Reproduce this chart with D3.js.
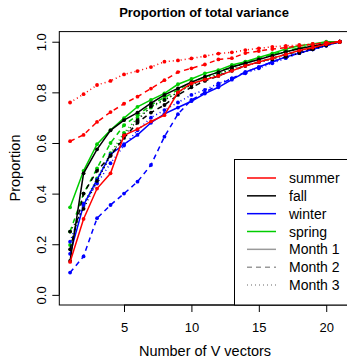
<!DOCTYPE html>
<html>
<head>
<meta charset="utf-8">
<script src="https://cdn.jsdelivr.net/npm/d3@7.9.0/dist/d3.min.js"></script>
<style>
  body { margin: 0; background: #fff; }
  svg { display: block; font-family: "Liberation Sans", Arial, sans-serif; }
</style>
</head>
<body>
<div id="chart"></div>
<script>
// Number of V vectors (x)
const nVectors = d3.range(1, 22);

const seasons = ['summer', 'fall', 'winter', 'spring'];
const seasonColors = ['#FF0000', '#000000', '#0000FF', '#00CD00'];
const months = ['Month 1', 'Month 2', 'Month 3'];
const monthDash = [null, '5,4', '1,3'];

// proportion of total variance, one array per season/month
const summerM1 = [0.13, 0.30, 0.42, 0.48, 0.63, 0.655, 0.685, 0.71, 0.80, 0.835, 0.85, 0.865, 0.885, 0.905, 0.92, 0.935, 0.95, 0.965, 0.977, 0.99, 1.0];
const summerM2 = [0.607, 0.632, 0.683, 0.722, 0.755, 0.783, 0.815, 0.848, 0.88, 0.895, 0.91, 0.93, 0.935, 0.955, 0.963, 0.971, 0.977, 0.984, 0.99, 0.996, 1.0];
const summerM3 = [0.76, 0.793, 0.829, 0.845, 0.871, 0.884, 0.90, 0.921, 0.926, 0.934, 0.943, 0.953, 0.958, 0.967, 0.974, 0.98, 0.984, 0.987, 0.991, 0.996, 1.0];

const fallM1 = [0.134, 0.48, 0.575, 0.65, 0.69, 0.72, 0.757, 0.79, 0.816, 0.84, 0.862, 0.88, 0.90, 0.915, 0.93, 0.945, 0.96, 0.972, 0.983, 0.992, 1.0];
const fallM2 = [0.18, 0.40, 0.49, 0.55, 0.62, 0.68, 0.72, 0.75, 0.79, 0.82, 0.845, 0.865, 0.885, 0.905, 0.92, 0.935, 0.95, 0.962, 0.975, 0.988, 1.0];
const fallM3 = [0.25, 0.34, 0.45, 0.55, 0.63, 0.69, 0.745, 0.77, 0.80, 0.83, 0.85, 0.87, 0.89, 0.905, 0.92, 0.93, 0.94, 0.955, 0.97, 0.985, 1.0];

const winterM1 = [0.162, 0.355, 0.455, 0.555, 0.595, 0.632, 0.68, 0.715, 0.74, 0.765, 0.795, 0.82, 0.85, 0.88, 0.90, 0.92, 0.94, 0.955, 0.97, 0.985, 1.0];
const winterM2 = [0.088, 0.152, 0.303, 0.355, 0.40, 0.447, 0.513, 0.625, 0.714, 0.77, 0.80, 0.83, 0.855, 0.88, 0.90, 0.92, 0.94, 0.955, 0.97, 0.985, 1.0];
const winterM3 = [0.21, 0.36, 0.44, 0.52, 0.59, 0.65, 0.70, 0.73, 0.76, 0.79, 0.81, 0.835, 0.855, 0.875, 0.895, 0.915, 0.935, 0.955, 0.97, 0.985, 1.0];

const springM1 = [0.346, 0.49, 0.595, 0.651, 0.698, 0.743, 0.77, 0.796, 0.832, 0.853, 0.875, 0.888, 0.908, 0.921, 0.938, 0.954, 0.971, 0.984, 0.991, 1.0, 1.0];
const springM2 = [0.25, 0.40, 0.50, 0.60, 0.67, 0.71, 0.75, 0.78, 0.81, 0.84, 0.86, 0.88, 0.90, 0.92, 0.935, 0.95, 0.965, 0.975, 0.985, 0.993, 1.0];
const springM3 = [0.197, 0.36, 0.46, 0.56, 0.64, 0.70, 0.74, 0.77, 0.80, 0.83, 0.855, 0.875, 0.895, 0.915, 0.93, 0.945, 0.96, 0.972, 0.983, 0.992, 1.0];

const seriesValues = {
  summer: [summerM1, summerM2, summerM3],
  fall: [fallM1, fallM2, fallM3],
  winter: [winterM1, winterM2, winterM3],
  spring: [springM1, springM2, springM3],
};

const xTicks = [5, 10, 15, 20];
const yTicks = [0, 0.2, 0.4, 0.6, 0.8, 1.0];

const width = 347, height = 358;
const plot = { left: 59.3, right: 350.5, top: 31.6, bottom: 305 };
const font = '"Liberation Sans", Arial, sans-serif';

const svg = d3.select('#chart').append('svg')
  .attr('width', width).attr('height', height);

const x = d3.scaleLinear().domain([0.2, 21.8]).range([plot.left, plot.right]);
const y = d3.scaleLinear().domain([-0.04, 1.04]).range([plot.bottom, plot.top]);

// series, drawn so that summer ends on top
const drawOrder = ['spring', 'winter', 'fall', 'summer'];
const line = d3.line().x((d, i) => x(nVectors[i])).y(d => y(d));
drawOrder.forEach(season => {
  const color = seasonColors[seasons.indexOf(season)];
  seriesValues[season].forEach((vals, m) => {
    const g = svg.append('g');
    g.append('path')
      .attr('d', line(vals))
      .attr('fill', 'none')
      .attr('stroke', color)
      .attr('stroke-width', 1.5)
      .attr('stroke-dasharray', monthDash[m]);
    g.selectAll('circle')
      .data(vals)
      .join('circle')
      .attr('cx', (d, i) => x(nVectors[i]))
      .attr('cy', d => y(d))
      .attr('r', 1.9)
      .attr('fill', color);
  });
});

// box
svg.append('rect')
  .attr('x', plot.left).attr('y', plot.top)
  .attr('width', plot.right - plot.left).attr('height', plot.bottom - plot.top)
  .attr('fill', 'none').attr('stroke', '#000').attr('stroke-width', 1);

// x axis
const xAxis = svg.append('g').attr('transform', `translate(0,${plot.bottom})`)
  .call(d3.axisBottom(x).tickValues(xTicks).tickSize(7).tickPadding(11).tickFormat(d3.format('d')));
xAxis.select('.domain').attr('d', `M${x(5)},0H${x(20)}`);
xAxis.selectAll('text').attr('font-size', 13).attr('font-family', font).attr('fill', '#000');

// y axis
const yAxis = svg.append('g').attr('transform', `translate(${plot.left},0)`)
  .call(d3.axisLeft(y).tickValues(yTicks).tickSize(7).tickFormat(d3.format('.1f')));
yAxis.select('.domain').attr('d', `M0,${y(0)}V${y(1)}`);
yAxis.selectAll('text')
  .attr('font-size', 13)
  .attr('font-family', font)
  .attr('fill', '#000')
  .attr('text-anchor', 'middle')
  .attr('x', 0).attr('dy', 0)
  .attr('transform', 'translate(-13,0) rotate(-90)');

// titles
svg.append('text')
  .attr('x', 204).attr('y', 17)
  .attr('text-anchor', 'middle')
  .attr('font-weight', 'bold').attr('font-size', 13)
  .text('Proportion of total variance');
svg.append('text')
  .attr('x', 205).attr('y', 356)
  .attr('text-anchor', 'middle').attr('font-size', 14.5)
  .text('Number of V vectors');
svg.append('text')
  .attr('transform', 'translate(20,168) rotate(-90)')
  .attr('text-anchor', 'middle').attr('font-size', 14.5)
  .text('Proportion');

// legend
const legendItems = seasons.map((s, i) => ({ label: s, color: seasonColors[i], dash: null }))
  .concat(months.map((m, i) => ({ label: m, color: '#9a9a9a', dash: monthDash[i] })));
const legend = svg.append('g');
legend.append('rect')
  .attr('x', 234.5).attr('y', 159.5)
  .attr('width', 130).attr('height', plot.bottom - 159.5)
  .attr('fill', '#fff').attr('stroke', '#000');
const rowY = d3.scaleLinear().domain([0, 6]).range([178, 285]);
legendItems.forEach((d, i) => {
  legend.append('line')
    .attr('x1', 247).attr('x2', 276)
    .attr('y1', rowY(i)).attr('y2', rowY(i))
    .attr('stroke', d.color).attr('stroke-width', 1.5)
    .attr('stroke-dasharray', d.dash);
  legend.append('text')
    .attr('x', 289).attr('y', rowY(i) + 5)
    .attr('font-size', 14)
    .text(d.label);
});
</script>
</body>
</html>
